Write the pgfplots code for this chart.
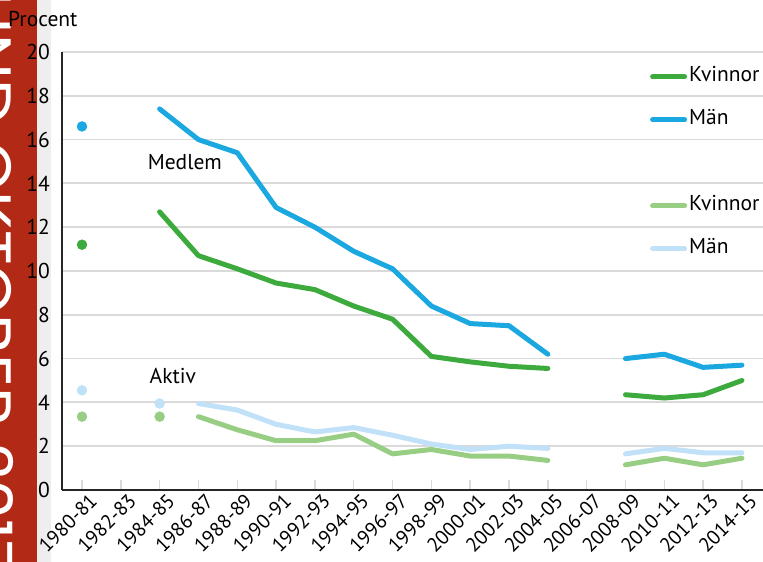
\documentclass[border=0pt]{standalone}
\usepackage{fontspec}
\setmainfont{PT Sans}
\newfontfamily\bannerfont{Poppins}
\usepackage{pgfplots}
\pgfplotsset{compat=1.18}

\definecolor{banner}{RGB}{178,42,22}
\definecolor{strip}{RGB}{238,238,238}
\definecolor{gridc}{RGB}{218,218,218}
\definecolor{medK}{RGB}{61,170,61}
\definecolor{medM}{RGB}{27,168,224}
\definecolor{aktK}{RGB}{152,206,132}
\definecolor{aktM}{RGB}{192,225,248}

\newcommand{\chartfont}{\fontsize{21.5pt}{24pt}\selectfont}
\newcommand{\tickfont}{\fontsize{20pt}{23pt}\selectfont}

\begin{document}
\begin{tikzpicture}
  \useasboundingbox (0,0) rectangle (763pt,562pt);
  \clip (0,0) rectangle (763pt,562pt);

  % side banner of the page
  \fill[banner] (0,0) rectangle (37pt,562pt);
  \fill[strip] (37pt,0) rectangle (51pt,562pt);
  \node[rotate=-90, anchor=base west, inner sep=0pt, text=white,
        font=\bannerfont\fontsize{64pt}{70pt}\selectfont]
    at (-33pt,599pt) {LUND OKTOBER 2017};

  \node[anchor=base west, inner sep=0pt, font=\chartfont] at (8pt,535pt) {Procent};

  \begin{axis}[
    at={(62pt,72pt)}, anchor=south west,
    x=38.82pt, y=21.9pt,
    xmin=-0.515, xmax=17.6, ymin=0, ymax=20,
    axis x line*=bottom, axis y line*=left,
    axis line style={line width=2pt, draw=black!85, -},
    ytick={0,2,...,20},
    xtick={0,...,17},
    xticklabels={1980-81,1982-83,1984-85,1986-87,1988-89,1990-91,1992-93,1994-95,1996-97,1998-99,2000-01,2002-03,2004-05,2006-07,2008-09,2010-11,2012-13,2014-15},
    tick align=inside,
    major tick length=10pt,
    xtick style={draw=gridc, line width=1.5pt},
    ytick style={draw=none},
    ymajorgrids,
    grid style={draw=gridc, line width=1.8pt},
    /pgf/number format/assume math mode=true,
    yticklabel style={font=\chartfont, anchor=east, inner sep=0pt, xshift=-12pt},
    xticklabel style={font=\tickfont, rotate=45, anchor=north east, inner sep=0pt, xshift=3pt, yshift=-6pt},
    clip=false,
    unbounded coords=jump,
    legend cell align=left,
    legend style={at={(0.836,0.969)}, anchor=north west, draw=none, fill=none,
      font=\chartfont, inner sep=0pt, row sep=21pt,
      nodes={inner sep=2pt, text height=14pt, text depth=4pt}},
    legend image code/.code={\draw[#1] (0pt,0pt) -- (32pt,0pt);},
    every axis plot/.append style={line width=5pt, line cap=round, line join=round},
  ]
    % Medlem
    \addplot[medK, mark=none] coordinates {
      (2,12.7) (3,10.7) (4,10.1) (5,9.45) (6,9.15) (7,8.4) (8,7.8) (9,6.1)
      (10,5.85) (11,5.65) (12,5.55) (13,nan) (14,4.35) (15,4.2) (16,4.35) (17,5.0)
    };
    \addlegendentry{Kvinnor}
    \addplot[medM, mark=none] coordinates {
      (2,17.4) (3,16.0) (4,15.4) (5,12.9) (6,12.0) (7,10.9) (8,10.1) (9,8.4)
      (10,7.6) (11,7.5) (12,6.2) (13,nan) (14,6.0) (15,6.2) (16,5.6) (17,5.7)
    };
    \addlegendentry{Män}
    \addlegendimage{empty legend}
    \addlegendentry{}
    % Aktiv
    \addplot[aktK, mark=none] coordinates {
      (3,3.35) (4,2.75) (5,2.25) (6,2.25) (7,2.55) (8,1.65) (9,1.85)
      (10,1.55) (11,1.55) (12,1.35) (13,nan) (14,1.15) (15,1.45) (16,1.15) (17,1.45)
    };
    \addlegendentry{Kvinnor}
    \addplot[aktM, mark=none] coordinates {
      (3,3.95) (4,3.65) (5,3.0) (6,2.65) (7,2.85) (8,2.5) (9,2.1)
      (10,1.85) (11,2.0) (12,1.9) (13,nan) (14,1.65) (15,1.9) (16,1.7) (17,1.7)
    };
    \addlegendentry{Män}

    % single points
    \addplot[medM, only marks, mark=*, mark size=5pt, mark options={line width=0.4pt}, forget plot] coordinates {(0,16.6)};
    \addplot[medK, only marks, mark=*, mark size=5pt, mark options={line width=0.4pt}, forget plot] coordinates {(0,11.2)};
    \addplot[aktM, only marks, mark=*, mark size=5pt, mark options={line width=0.4pt}, forget plot] coordinates {(0,4.55) (2,3.95)};
    \addplot[aktK, only marks, mark=*, mark size=5pt, mark options={line width=0.4pt}, forget plot] coordinates {(0,3.35) (2,3.35)};

    \node[font=\chartfont] at (axis cs:2.65,14.98) {Medlem};
    \node[font=\chartfont] at (axis cs:2.34,5.2) {Aktiv};
  \end{axis}
\end{tikzpicture}
\end{document}
